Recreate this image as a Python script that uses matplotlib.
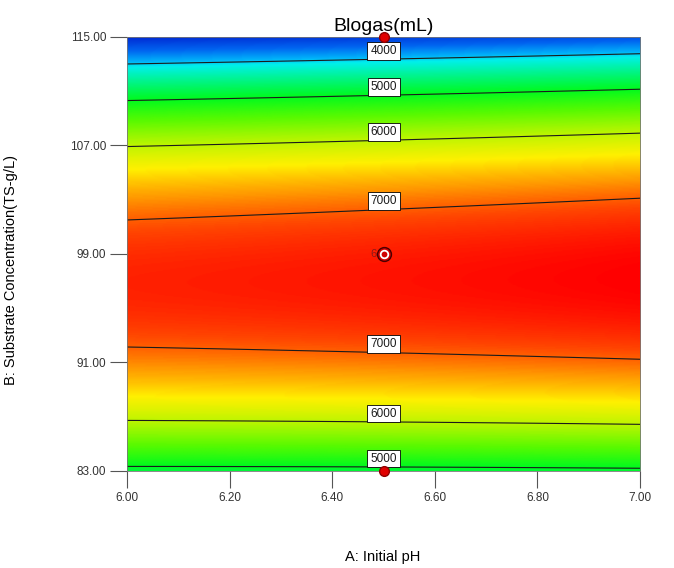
import numpy as np
import matplotlib
matplotlib.use("Agg")
import matplotlib.pyplot as plt
import matplotlib.transforms as mtransforms
from matplotlib.colors import LinearSegmentedColormap, Normalize

plt.rcParams.update({"font.family": ["Liberation Sans", "DejaVu Sans"]})

# factor ranges (actual units)
ph_range = [6.0, 7.0]
ts_range = [83.0, 115.0]
x_ticks = [6.00, 6.20, 6.40, 6.60, 6.80, 7.00]
y_ticks = [83.00, 91.00, 99.00, 107.00, 115.00]

# quadratic response model in coded units
b0, bA, bB, bAB, bAA, bBB = 7297.0, 92.0, -800.0, 70.0, 10.0, -3200.0
levels = [4000, 5000, 6000, 7000]

# design points shown on the plot
pt_ph = [6.5, 6.5]
pt_ts = [115.0, 83.0]
center_ph, center_ts, center_n = 6.5, 99.0, 6

# colour ramp (value -> rgb) similar to Design-Expert
ramp_vals = [3150, 3600, 3950, 4100, 4600, 5000, 5500, 6000, 6400, 6800, 7100, 7440]
ramp_cols = [(0, 40, 210), (0, 100, 240), (0, 180, 250), (0, 240, 235), (0, 245, 120),
             (0, 250, 30), (90, 250, 0), (190, 245, 0), (255, 240, 0), (255, 150, 0),
             (255, 70, 0), (255, 0, 0)]


def model(ph, ts):
    A = (ph - 6.5) / 0.5
    B = (ts - 99.0) / 16.0
    return b0 + bA * A + bB * B + bAB * A * B + bAA * A ** 2 + bBB * B ** 2


ph = np.linspace(*ph_range, 300)
ts = np.linspace(*ts_range, 400)
PH, TS = np.meshgrid(ph, ts)
Z = model(PH, TS)

lo, hi = ramp_vals[0], ramp_vals[-1]
cmap = LinearSegmentedColormap.from_list(
    "dx", [((v - lo) / (hi - lo), tuple(c / 255 for c in col)) for v, col in zip(ramp_vals, ramp_cols)])

fig = plt.figure(figsize=(6.74, 5.68), dpi=100)
ax = fig.add_axes([0.1884, 0.1708, 0.7612, 0.7641])
ax.imshow(Z, extent=[*ph_range, *ts_range], origin="lower", aspect="auto",
          cmap=cmap, norm=Normalize(lo, hi), interpolation="bilinear")
cs = ax.contour(PH, TS, Z, levels=levels, colors="#1b1b1b", linewidths=0.8)
manual = [(6.5, 113.6), (6.5, 111.0), (6.5, 107.6), (6.5, 103.0),
          (6.5, 92.0), (6.5, 87.0), (6.5, 83.6)]
labs = ax.clabel(cs, fmt="%d", fontsize=8.5, inline=False, manual=manual)
lift = mtransforms.ScaledTranslation(0, 6 / 72, fig.dpi_scale_trans)
for t in labs:
    t.set_rotation(0)
    t.set_transform(t.get_transform() + lift)
    t.set_bbox(dict(facecolor="white", edgecolor="black", linewidth=0.6, pad=2))
    t.set_zorder(4)

ax.plot(pt_ph, pt_ts, "o", ms=7, mfc="#e00000", mec="#900000", clip_on=False, zorder=5)
ax.text(center_ph - 0.02, center_ts, str(center_n), color="#8a1a1a", fontsize=8,
        ha="center", va="center", zorder=4)
ax.plot(center_ph, center_ts, "o", ms=10, mfc="#d00000", mec="#4a0000", zorder=5)
ax.plot(center_ph, center_ts, "o", ms=5.5, mfc="#d00000", mec="white", mew=1.3, zorder=6)

ax.set_xlim(*ph_range)
ax.set_ylim(*ts_range)
ax.set_xticks(x_ticks)
ax.set_yticks(y_ticks)
ax.set_xticklabels([f"{v:.2f}" for v in x_ticks])
ax.set_yticklabels([f"{v:.2f}" for v in y_ticks])
ax.tick_params(direction="out", length=12, width=0.8, color="#555555",
               labelsize=8.5, pad=3, labelcolor="#333333")
for s in ax.spines.values():
    s.set_color("#777777")
    s.set_linewidth(0.6)

ax.set_title("Blogas(mL)", fontsize=14, pad=4)
ax.set_xlabel("A: Initial pH", fontsize=10.5)
ax.set_ylabel("B: Substrate Concentration(TS-g/L)", fontsize=10.5)
ax.xaxis.set_label_coords(0.499, -0.182)
ax.yaxis.set_label_coords(-0.212, 0.463)

fig.savefig("out.png", dpi=100)
